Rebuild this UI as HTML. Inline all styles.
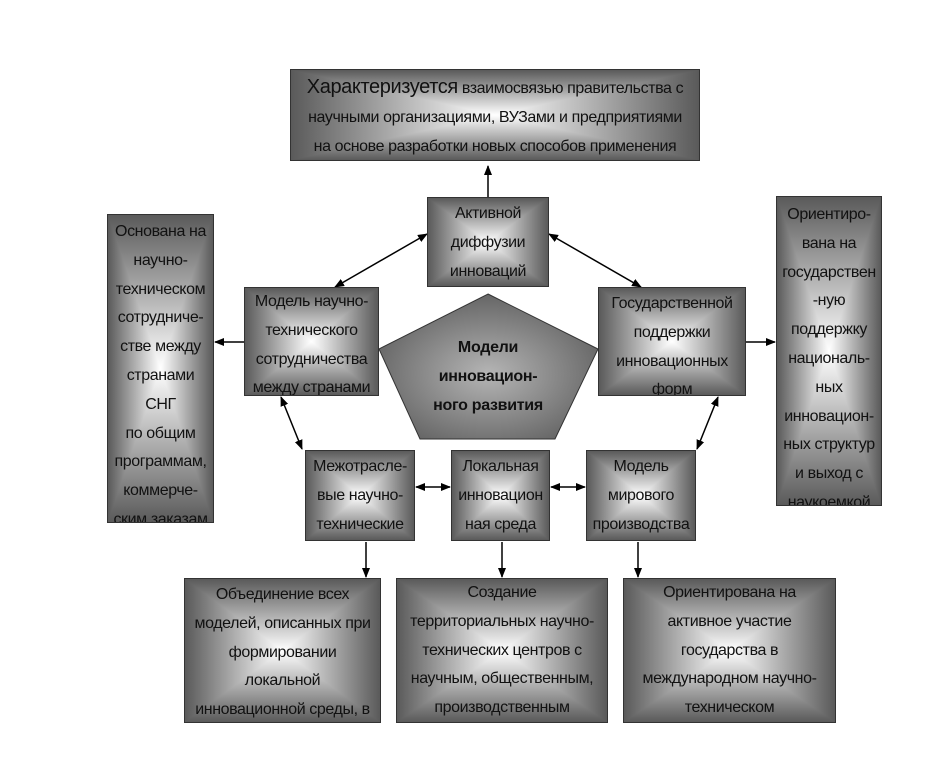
<!DOCTYPE html>
<html><head><meta charset="utf-8"><style>
body{margin:0;width:934px;height:768px;background:#fff;position:relative;overflow:hidden;font-family:"Liberation Sans",Arial,sans-serif;}
.b{position:absolute;box-sizing:border-box;border:1px solid #333;overflow:hidden;text-align:center;font-size:16px;line-height:28.8px;color:#111;letter-spacing:-0.4px;white-space:nowrap;
background:linear-gradient(to right,#5a5a5a,#fff 50%,#5a5a5a),linear-gradient(to bottom,#5a5a5a,#fff 50%,#5a5a5a);background-blend-mode:darken;}
svg{position:absolute;left:0;top:0;}
.p{position:absolute;text-align:center;font-weight:bold;font-size:16px;line-height:29px;color:#111;white-space:nowrap;letter-spacing:-0.3px;}
</style></head><body>
<svg width="934" height="768">
<defs>
<radialGradient id="g" cx="50%" cy="55%" r="60%"><stop offset="0" stop-color="#b5b5b5"/><stop offset="1" stop-color="#5e5e5e"/></radialGradient>
<marker id="a" markerWidth="10" markerHeight="10" refX="9" refY="5" orient="auto-start-reverse" markerUnits="userSpaceOnUse"><path d="M0,1 L10,5 L0,9z" fill="#000"/></marker>
</defs>
<polygon points="488,294 598,349 555,439 420,439 379,349" fill="url(#g)" stroke="#333" stroke-width="1"/>
<g stroke="#000" stroke-width="1.5" fill="none">
<line x1="488" y1="197" x2="488" y2="166" marker-end="url(#a)"/>
<line x1="427" y1="234" x2="335" y2="287" marker-start="url(#a)" marker-end="url(#a)"/>
<line x1="549" y1="234" x2="641" y2="287" marker-start="url(#a)" marker-end="url(#a)"/>
<line x1="244" y1="342" x2="215" y2="342" marker-end="url(#a)"/>
<line x1="746" y1="342" x2="775" y2="342" marker-end="url(#a)"/>
<line x1="281" y1="397" x2="302" y2="449" marker-start="url(#a)" marker-end="url(#a)"/>
<line x1="718" y1="397" x2="697" y2="449" marker-start="url(#a)" marker-end="url(#a)"/>
<line x1="416" y1="487" x2="450" y2="487" marker-start="url(#a)" marker-end="url(#a)"/>
<line x1="551" y1="487" x2="585" y2="487" marker-start="url(#a)" marker-end="url(#a)"/>
<line x1="366" y1="542" x2="366" y2="577" marker-end="url(#a)"/>
<line x1="502" y1="542" x2="502" y2="577" marker-end="url(#a)"/>
<line x1="638" y1="542" x2="638" y2="577" marker-end="url(#a)"/>
</g>
</svg>
<div class="b" style="left:290px;top:69px;width:410px;height:92px;padding-top:3px;line-height:29px;"><span style="font-size:20px">Характеризуется</span> взаимосвязью правительства с<br>научными организациями, ВУЗами и предприятиями<br>на основе разработки новых способов применения</div>
<div class="b" style="left:427px;top:197px;width:122px;height:90px;padding-top:2px;">Активной<br>диффузии<br>инноваций</div>
<div class="b" style="left:244px;top:287px;width:135px;height:109px;padding-top:0px;">Модель научно-<br>технического<br>сотрудничества<br>между странами</div>
<div class="b" style="left:598px;top:287px;width:148px;height:109px;padding-top:2px;">Государственной<br>поддержки<br>инновационных<br>форм</div>
<div class="b" style="left:107px;top:214px;width:107px;height:309px;padding-top:3px;">Основана на<br>научно-<br>техническом<br>сотрудниче-<br>стве между<br>странами<br>СНГ<br>по общим<br>программам,<br>коммерче-<br>ским заказам</div>
<div class="b" style="left:776px;top:196px;width:106px;height:310px;padding-top:4px;">Ориентиро-<br>вана на<br>государствен<br>-ную<br>поддержку<br>националь-<br>ных<br>инновацион-<br>ных структур<br>и выход с<br>наукоемкой</div>
<div class="p" style="left:420px;top:333px;width:136px;">Модели<br>инновацион-<br>ного развития</div>
<div class="b" style="left:305px;top:450px;width:110px;height:91px;padding-top:2px;">Межотрасле-<br>вые научно-<br>технические</div>
<div class="b" style="left:451px;top:450px;width:99px;height:91px;padding-top:2px;">Локальная<br>инновацион<br>ная среда</div>
<div class="b" style="left:586px;top:450px;width:110px;height:91px;padding-top:2px;">Модель<br>мирового<br>производства</div>
<div class="b" style="left:184px;top:578px;width:197px;height:145px;padding-top:2px;">Объединение всех<br>моделей, описанных при<br>формировании<br>локальной<br>инновационной среды, в</div>
<div class="b" style="left:396px;top:578px;width:212px;height:145px;padding-top:0px;">Создание<br>территориальных научно-<br>технических центров с<br>научным, общественным,<br>производственным<br>потенца-лом</div>
<div class="b" style="left:623px;top:578px;width:213px;height:145px;padding-top:0px;">Ориентирована на<br>активное участие<br>государства в<br>международном научно-<br>техническом<br>сотрудничестве и широком</div>
</body></html>
